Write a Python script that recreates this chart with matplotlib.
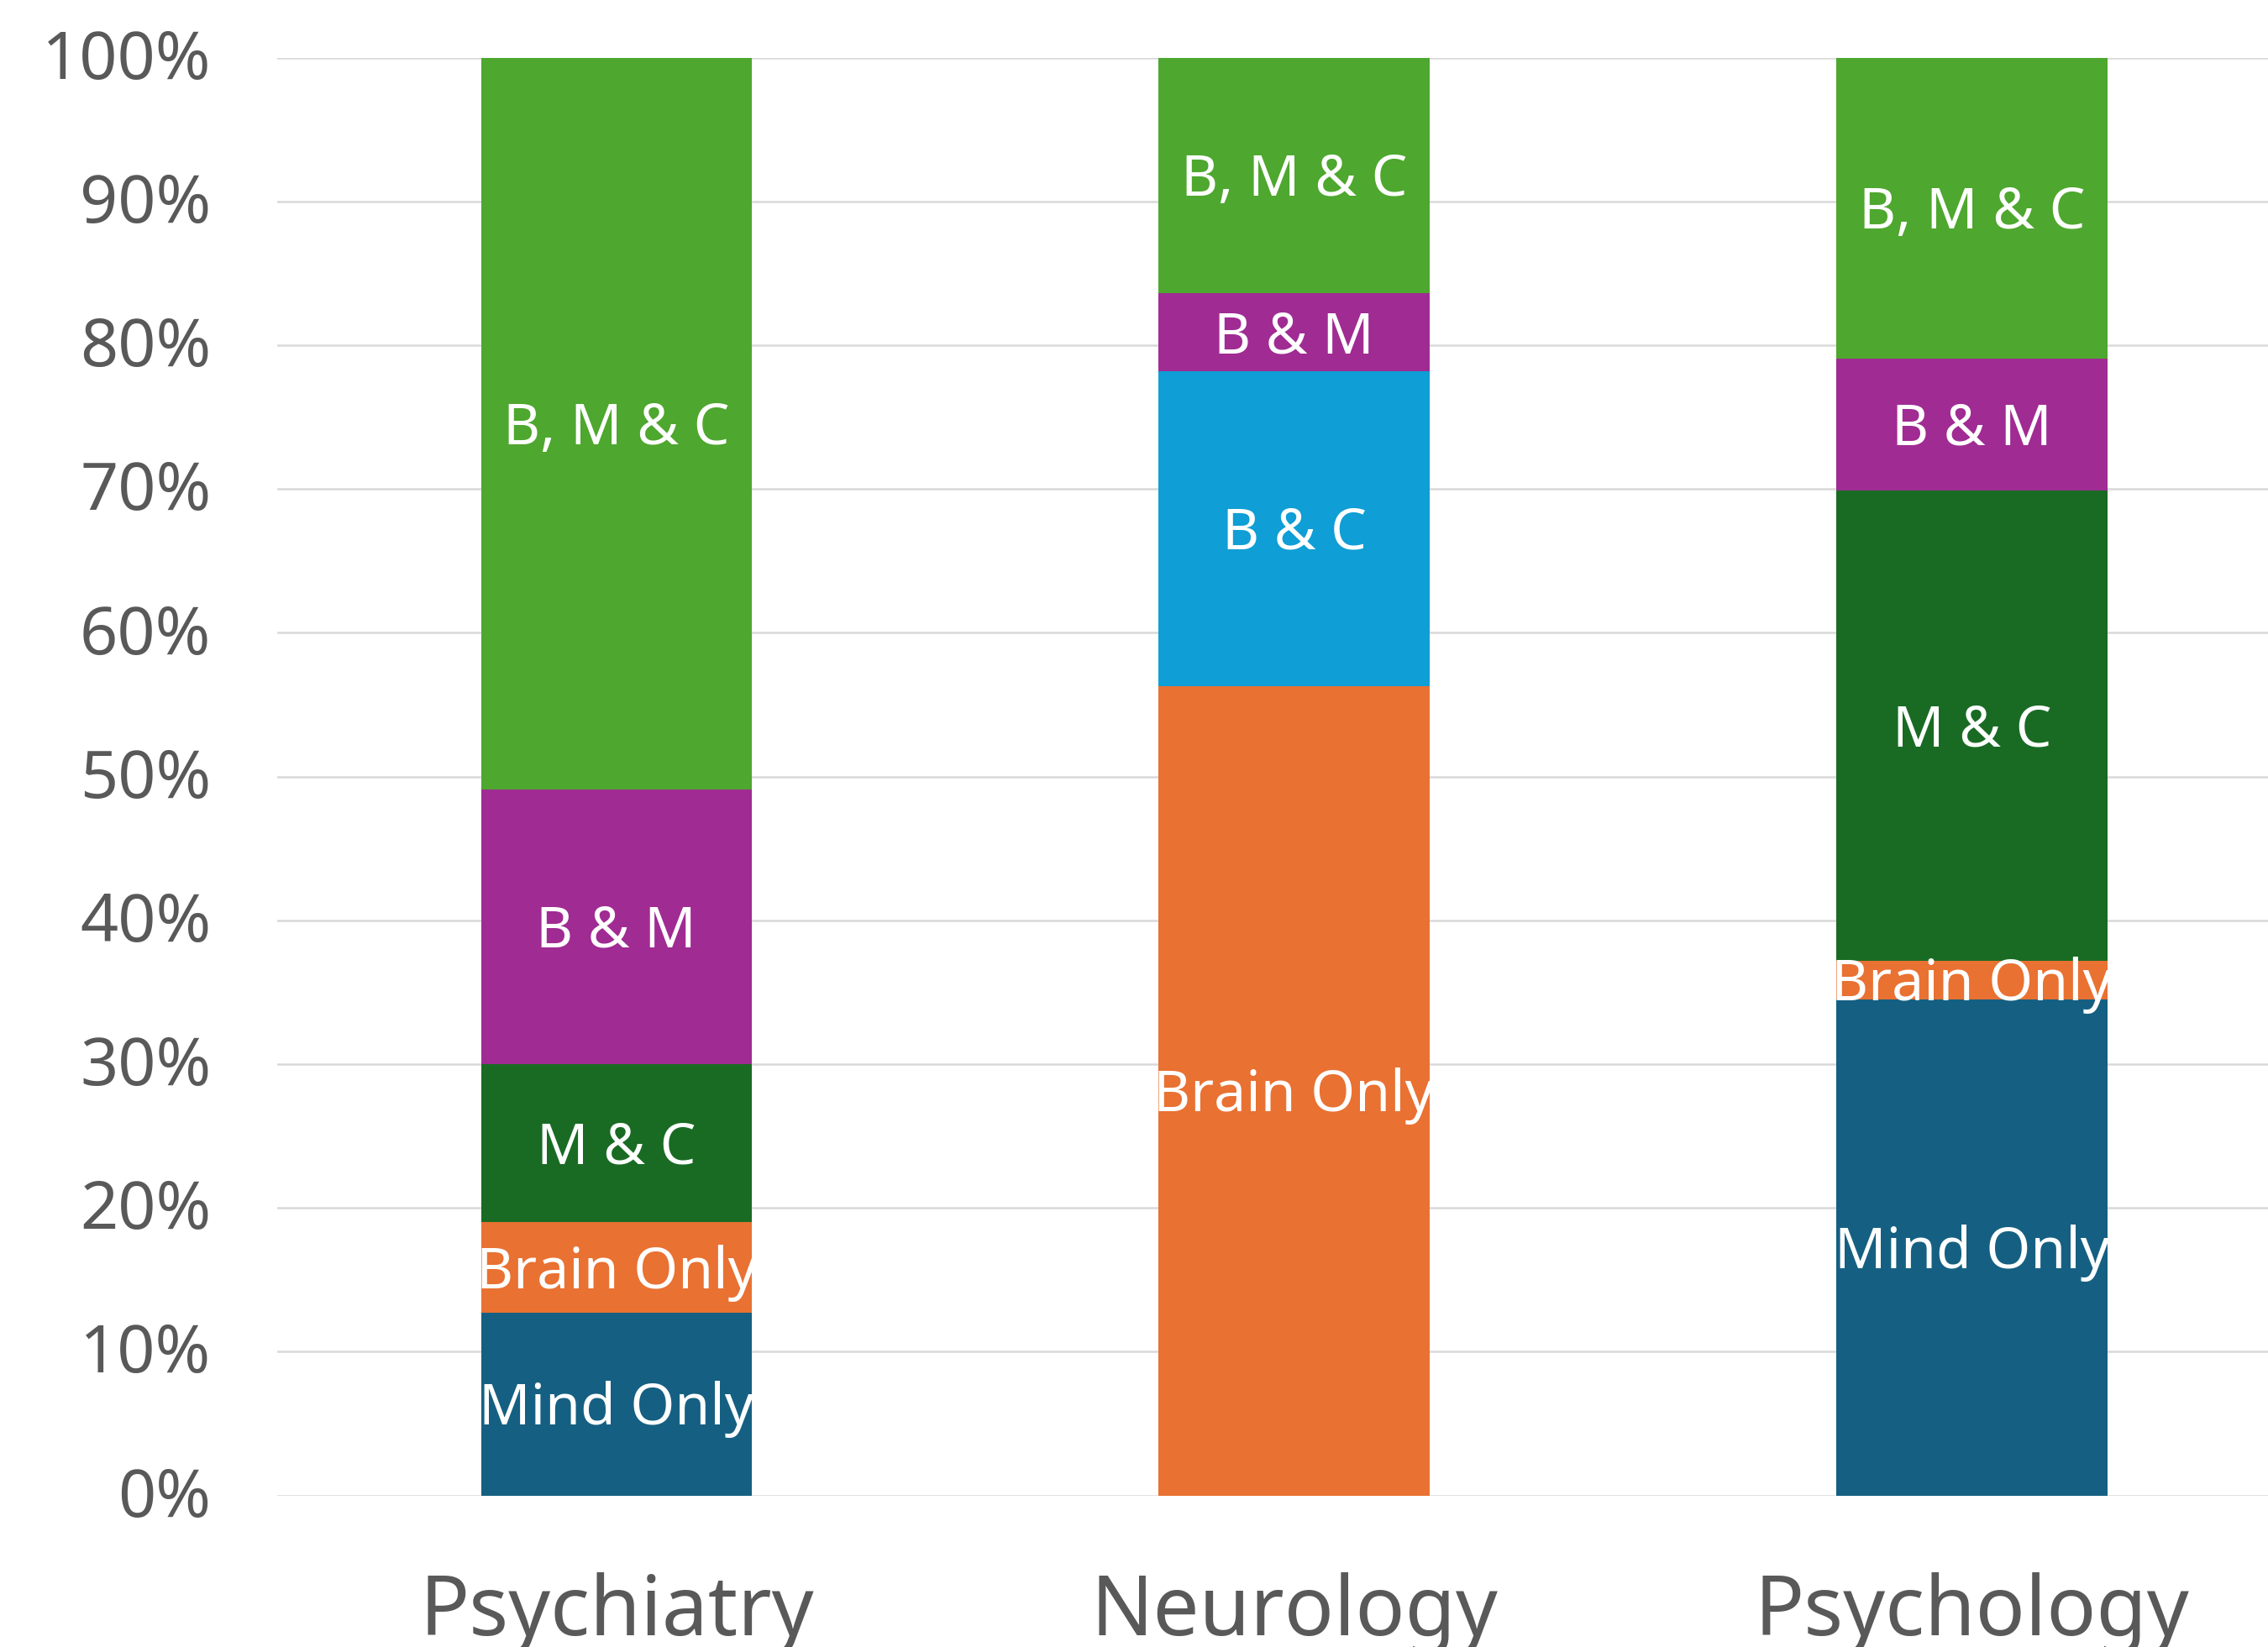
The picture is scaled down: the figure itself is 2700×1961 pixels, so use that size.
import matplotlib.pyplot as plt
import matplotlib.transforms as mtransforms
import numpy as np

plt.rcParams['font.family'] = ['Noto Sans', 'DejaVu Sans']

categories = ['Psychiatry', 'Neurology', 'Psychology']
series = ['Mind Only', 'Brain Only', 'M & C', 'B & C', 'B & M', 'B, M & C']

# percent of each discipline
mind_only = [12.7, 0.0, 34.5]
brain_only = [6.3, 56.3, 2.7]
m_and_c = [11.0, 0.0, 32.7]
b_and_c = [0.0, 21.9, 0.0]
b_and_m = [19.1, 5.4, 9.2]
b_m_and_c = [50.9, 16.4, 20.9]

values = [mind_only, brain_only, m_and_c, b_and_c, b_and_m, b_m_and_c]
colors = ['#156082', '#E97132', '#196B24', '#0F9ED5', '#A02B93', '#4EA72E']

yticks = list(range(0, 101, 10))
ytick_labels = ['%d%%' % v for v in yticks]

fig = plt.figure(figsize=(9, 6.537), dpi=300)
ax = fig.add_axes([0.1224, 0.092, 0.8964, 0.8729])

x = np.arange(len(categories))
bottom = np.zeros(len(categories))
for name, vals, col in zip(series, values, colors):
    vals = np.array(vals)
    bars = ax.bar(x, vals, 0.4, bottom=bottom, color=col, zorder=2)
    labels = [name if v > 0 else '' for v in vals]
    texts = ax.bar_label(bars, labels=labels, label_type='center',
                         color='white', fontsize=16.3)
    # text is cut at the left/right edges of its bar, like in the original
    for t, b in zip(texts, bars):
        x0 = b.get_x()
        box = mtransforms.Bbox([[x0, -10], [x0 + b.get_width(), 110]])
        t.set_clip_box(mtransforms.TransformedBbox(box, ax.transData))
        t.set_clip_on(True)
        t.xyann = (0, -1.5)
    bottom += vals

ax.set_xlim(-0.5, 2.5)
ax.set_ylim(0, 100)
ax.set_yticks(yticks)
ax.set_yticklabels(ytick_labels)
ax.set_xticks(x)
ax.set_xticklabels(categories)
ax.yaxis.grid(True, color='#D9D9D9', lw=0.6)
ax.set_axisbelow(True)
for s in ax.spines.values():
    s.set_visible(False)
ax.tick_params(axis='y', length=0, pad=19, labelsize=19, labelcolor='#595959')
ax.tick_params(axis='x', length=0, pad=22, labelsize=23.5, labelcolor='#595959')

# nudge the percent labels up a little
up = mtransforms.ScaledTranslation(0, 1.2 / 72, fig.dpi_scale_trans)
for lbl in ax.get_yticklabels():
    lbl.set_transform(lbl.get_transform() + up)

fig.savefig('out.png', dpi=300)
